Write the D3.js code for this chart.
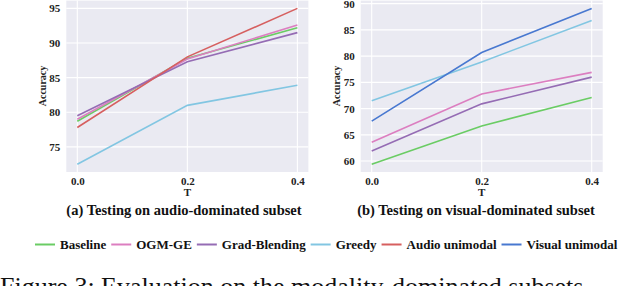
<!DOCTYPE html>
<html>
<head>
<meta charset="utf-8">
<script src="https://cdn.jsdelivr.net/npm/d3@7"></script>
<style>
  body { margin: 0; background: #fff; }
  svg { display: block; font-family: "Liberation Serif", "Times New Roman", serif; }
</style>
</head>
<body>
<svg id="fig" width="622" height="286"></svg>
<script>
// x values (temperature T)
var tValues = [0.0, 0.2, 0.4];

// (a) audio-dominated subset
var baselineAudio = [78.7, 87.8, 92.2];
var ogmAudio = [79.0, 87.7, 92.6];
var gradAudio = [79.5, 87.3, 91.5];
var greedyAudio = [72.5, 81.0, 83.9];
var audioUniAudio = [77.8, 88.0, 95.0];

// (b) visual-dominated subset
var baselineVisual = [59.4, 66.7, 72.1];
var ogmVisual = [63.6, 72.8, 76.9];
var gradVisual = [61.9, 70.9, 76.0];
var greedyVisual = [71.5, 78.9, 86.8];
var visualUniVisual = [67.6, 80.7, 89.1];

var xTicks = [0.0, 0.2, 0.4];
var yTicksAudio = [75, 80, 85, 90, 95];
var yTicksVisual = [60, 65, 70, 75, 80, 85, 90];

var legendNames = ["Baseline", "OGM-GE", "Grad-Blending", "Greedy", "Audio unimodal", "Visual unimodal"];
var legendColors = ["#6acc64", "#dc7ec0", "#956cb4", "#82c6e2", "#d65f5f", "#4878d0"];

var svg = d3.select("#fig");

function drawPanel(opts) {
    var x = d3.scaleLinear().domain([-0.02, 0.42]).range([opts.left, opts.right]);
    var lo = d3.min(opts.series, function (s) { return d3.min(s.values); });
    var hi = d3.max(opts.series, function (s) { return d3.max(s.values); });
    var pad = (hi - lo) * 0.05;
    var y = d3.scaleLinear().domain([lo - pad, hi + pad]).range([172, 0.6]);

    var g = svg.append("g");

    g.append("rect")
        .attr("x", opts.left).attr("y", 0.6)
        .attr("width", opts.right - opts.left).attr("height", 172 - 0.6)
        .attr("fill", "#eaeaf2");

    // grid
    g.selectAll("line.hg").data(opts.yTicks).enter().append("line")
        .attr("x1", opts.left).attr("x2", opts.right)
        .attr("y1", function (d) { return y(d); })
        .attr("y2", function (d) { return y(d); })
        .attr("stroke", "#fff").attr("stroke-width", 1.1);
    g.selectAll("line.vg").data(xTicks).enter().append("line")
        .attr("y1", 0.6).attr("y2", 172)
        .attr("x1", function (d) { return x(d); })
        .attr("x2", function (d) { return x(d); })
        .attr("stroke", "#fff").attr("stroke-width", 1.1);

    // axes (labels only, seaborn darkgrid style)
    var yAxis = g.append("g")
        .attr("transform", "translate(" + opts.left + ",0)")
        .call(d3.axisLeft(y).tickValues(opts.yTicks).tickSize(0).tickPadding(6));
    var xAxis = g.append("g")
        .attr("transform", "translate(0,172)")
        .call(d3.axisBottom(x).tickValues(xTicks).tickFormat(d3.format(".1f")).tickSize(0).tickPadding(5));
    [yAxis, xAxis].forEach(function (a) {
        a.select(".domain").remove();
        a.selectAll("text")
            .attr("font-family", "Liberation Serif")
            .attr("font-weight", "bold")
            .attr("font-size", 11)
            .attr("fill", "#222");
    });

    var line = d3.line()
        .x(function (d, i) { return x(tValues[i]); })
        .y(function (d) { return y(d); });

    g.selectAll("path.series").data(opts.series).enter().append("path")
        .attr("d", function (s) { return line(s.values); })
        .attr("fill", "none")
        .attr("stroke", function (s) { return s.color; })
        .attr("stroke-width", 1.6);

    g.append("text")
        .attr("transform", "translate(" + opts.yLabelX + "," + 86 + ") rotate(-90)")
        .attr("text-anchor", "middle")
        .attr("dominant-baseline", "middle")
        .attr("font-weight", "bold").attr("font-size", 10)
        .attr("fill", "#222")
        .text("Accuracy");

    g.append("text")
        .attr("x", (x(0) + x(0.4)) / 2).attr("y", 196)
        .attr("text-anchor", "middle")
        .attr("font-weight", "bold").attr("font-size", 11)
        .attr("fill", "#222")
        .text("T");

    g.append("text")
        .attr("x", opts.titleX).attr("y", 215)
        .attr("text-anchor", "middle")
        .attr("font-weight", "bold").attr("font-size", 14.5)
        .attr("fill", "#111")
        .text(opts.title);
}

drawPanel({
    left: 66.3, right: 308.4, yLabelX: 43.5, titleX: 184,
    yTicks: yTicksAudio,
    title: "(a) Testing on audio-dominated subset",
    series: [
        { values: baselineAudio, color: legendColors[0] },
        { values: ogmAudio, color: legendColors[1] },
        { values: gradAudio, color: legendColors[2] },
        { values: greedyAudio, color: legendColors[3] },
        { values: audioUniAudio, color: legendColors[4] }
    ]
});

drawPanel({
    left: 360.7, right: 602.7, yLabelX: 337.5, titleX: 476,
    yTicks: yTicksVisual,
    title: "(b) Testing on visual-dominated subset",
    series: [
        { values: baselineVisual, color: legendColors[0] },
        { values: ogmVisual, color: legendColors[1] },
        { values: gradVisual, color: legendColors[2] },
        { values: greedyVisual, color: legendColors[3] },
        { values: visualUniVisual, color: legendColors[5] }
    ]
});

// legend, laid out from measured text widths
var lx = 35, ly = 244.5;
var legend = svg.append("g");
legendNames.forEach(function (name, i) {
    legend.append("line")
        .attr("x1", lx).attr("x2", lx + 20)
        .attr("y1", ly).attr("y2", ly)
        .attr("stroke", legendColors[i]).attr("stroke-width", 2);
    var t = legend.append("text")
        .attr("x", lx + 25).attr("y", ly)
        .attr("dominant-baseline", "central")
        .attr("font-weight", "bold").attr("font-size", 13)
        .attr("fill", "#111")
        .text(name);
    lx += 25 + t.node().getComputedTextLength() + 5;
});

// figure caption, cut off by the bottom edge as in the source page
svg.append("text")
    .attr("x", 0).attr("y", 295)
    .attr("font-size", 26)
    .attr("fill", "#111")
    .text("Figure 3: Evaluation on the modality-dominated subsets");
</script>
</body>
</html>
